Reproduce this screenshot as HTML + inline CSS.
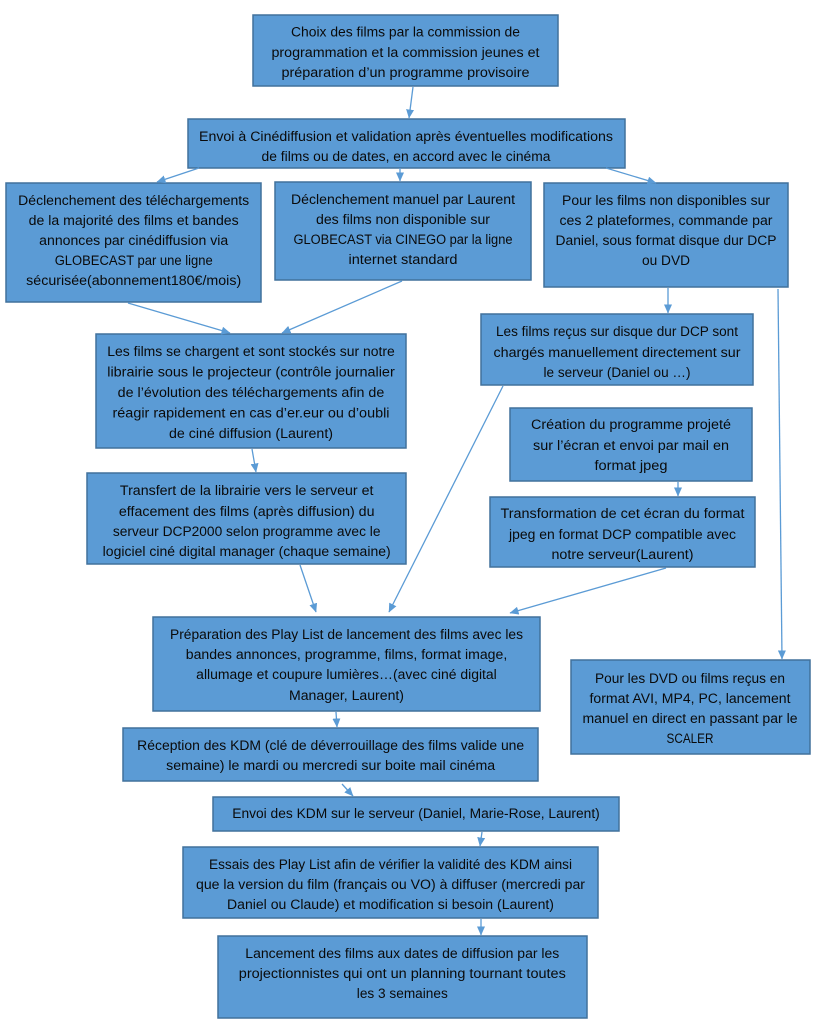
<!DOCTYPE html>
<html>
<head>
<meta charset="utf-8">
<style>
html,body{margin:0;padding:0;background:#fff;}
svg{display:block;}
text{font-family:"Liberation Sans",sans-serif;font-size:13.5px;fill:#0a0a0a;}
</style>
</head>
<body>
<svg width="820" height="1024" viewBox="0 0 820 1024" xmlns="http://www.w3.org/2000/svg">
<defs>
<marker id="ah" markerUnits="userSpaceOnUse" markerWidth="9" markerHeight="8" refX="8.5" refY="4" orient="auto">
<path d="M0,0 L9,4 L0,8 z" fill="#5B9BD5"/>
</marker>
</defs>
<rect x="0" y="0" width="820" height="1024" fill="#fff"/>

<g fill="#5B9BD5" stroke="#41719C" stroke-width="1.5">
<rect x="253" y="15" width="305" height="71"/>
<rect x="188" y="119" width="437" height="49"/>
<rect x="6" y="183" width="255" height="119"/>
<rect x="275" y="182" width="256" height="98"/>
<rect x="544" y="183" width="244" height="104"/>
<rect x="96" y="334" width="310" height="114"/>
<rect x="481" y="314" width="272" height="71"/>
<rect x="510" y="408" width="242" height="73"/>
<rect x="490" y="497" width="265" height="70"/>
<rect x="87" y="473" width="319" height="91"/>
<rect x="153" y="617" width="387" height="94"/>
<rect x="571" y="660" width="239" height="94"/>
<rect x="123" y="728" width="415" height="53"/>
<rect x="213" y="797" width="406" height="34"/>
<rect x="183" y="847" width="415" height="71"/>
<rect x="218" y="936" width="369" height="82"/>
</g>

<g stroke="#5B9BD5" stroke-width="1.3" fill="none" marker-end="url(#ah)">
<line x1="413" y1="87" x2="409" y2="118"/>
<line x1="199" y1="168" x2="157" y2="182"/>
<line x1="400" y1="168" x2="400" y2="181"/>
<line x1="606" y1="168" x2="656" y2="183"/>
<line x1="128" y1="303" x2="230" y2="333"/>
<line x1="402" y1="281" x2="282" y2="333"/>
<line x1="668" y1="288" x2="668" y2="313"/>
<line x1="778" y1="289" x2="782" y2="659"/>
<line x1="252" y1="449" x2="256" y2="472"/>
<line x1="300" y1="565" x2="316" y2="612"/>
<line x1="503" y1="386" x2="389" y2="612"/>
<line x1="666" y1="568" x2="510" y2="613"/>
<line x1="678" y1="482" x2="678" y2="496"/>
<line x1="336" y1="712" x2="337" y2="727"/>
<line x1="342" y1="784" x2="353" y2="796"/>
<line x1="482" y1="832" x2="480" y2="846"/>
<line x1="481" y1="919" x2="481" y2="935"/>
</g>

<g text-anchor="middle" lengthAdjust="spacingAndGlyphs">
<text x="405.5" y="36.5" textLength="229" lengthAdjust="spacingAndGlyphs">Choix des films par la commission de</text>
<text x="405.5" y="57" textLength="268" lengthAdjust="spacingAndGlyphs">programmation et la commission jeunes et</text>
<text x="405.5" y="77" textLength="248" lengthAdjust="spacingAndGlyphs">préparation d’un programme provisoire</text>

<text x="406" y="141" textLength="414" lengthAdjust="spacingAndGlyphs">Envoi à Cinédiffusion et validation après éventuelles modifications</text>
<text x="406" y="161" textLength="289" lengthAdjust="spacingAndGlyphs">de films ou de dates, en accord avec le cinéma</text>

<text x="133.7" y="205" textLength="231" lengthAdjust="spacingAndGlyphs">Déclenchement des téléchargements</text>
<text x="133.7" y="225" textLength="210" lengthAdjust="spacingAndGlyphs">de la majorité des films et bandes</text>
<text x="133.7" y="245" textLength="189" lengthAdjust="spacingAndGlyphs">annonces par cinédiffusion via</text>
<text x="133.7" y="265" textLength="158" lengthAdjust="spacingAndGlyphs">GLOBECAST par une ligne</text>
<text x="133.7" y="285" textLength="215" lengthAdjust="spacingAndGlyphs">sécurisée(abonnement180€/mois)</text>

<text x="403" y="204" textLength="224" lengthAdjust="spacingAndGlyphs">Déclenchement manuel par Laurent</text>
<text x="403" y="224" textLength="174" lengthAdjust="spacingAndGlyphs">des films non disponible sur</text>
<text x="403" y="244" textLength="219" lengthAdjust="spacingAndGlyphs">GLOBECAST via CINEGO par la ligne</text>
<text x="403" y="264" textLength="109" lengthAdjust="spacingAndGlyphs">internet standard</text>

<text x="666" y="205" textLength="208" lengthAdjust="spacingAndGlyphs">Pour les films non disponibles sur</text>
<text x="666" y="225" textLength="213" lengthAdjust="spacingAndGlyphs">ces 2 plateformes, commande par</text>
<text x="666" y="245" textLength="221" lengthAdjust="spacingAndGlyphs">Daniel, sous format disque dur DCP</text>
<text x="666" y="265" textLength="48" lengthAdjust="spacingAndGlyphs">ou DVD</text>

<text x="251" y="356" textLength="287.5" lengthAdjust="spacingAndGlyphs">Les films se chargent et sont stockés sur notre</text>
<text x="251" y="376.5" textLength="287.5" lengthAdjust="spacingAndGlyphs">librairie sous le projecteur (contrôle journalier</text>
<text x="251" y="397" textLength="266.6" lengthAdjust="spacingAndGlyphs">de l’évolution des téléchargements afin de</text>
<text x="251" y="417.5" textLength="277" lengthAdjust="spacingAndGlyphs">réagir rapidement en cas d’er.eur ou d’oubli</text>
<text x="251" y="438" textLength="164" lengthAdjust="spacingAndGlyphs">de ciné diffusion (Laurent)</text>

<text x="617" y="336" textLength="242" lengthAdjust="spacingAndGlyphs">Les films reçus sur disque dur DCP sont</text>
<text x="617" y="357" textLength="247" lengthAdjust="spacingAndGlyphs">chargés manuellement directement sur</text>
<text x="617" y="377" textLength="147" lengthAdjust="spacingAndGlyphs">le serveur (Daniel ou …)</text>

<text x="631" y="429" textLength="200" lengthAdjust="spacingAndGlyphs">Création du programme projeté</text>
<text x="631" y="450" textLength="196" lengthAdjust="spacingAndGlyphs">sur l’écran  et envoi par mail en</text>
<text x="631" y="470" textLength="73" lengthAdjust="spacingAndGlyphs">format jpeg</text>

<text x="622.5" y="518" textLength="244" lengthAdjust="spacingAndGlyphs">Transformation de cet écran du format</text>
<text x="622.5" y="539" textLength="227" lengthAdjust="spacingAndGlyphs">jpeg en format DCP compatible avec</text>
<text x="622.5" y="559" textLength="142" lengthAdjust="spacingAndGlyphs">notre serveur(Laurent)</text>

<text x="246.7" y="495" textLength="253.5" lengthAdjust="spacingAndGlyphs">Transfert de la librairie vers le serveur et</text>
<text x="246.7" y="516" textLength="255.6" lengthAdjust="spacingAndGlyphs">effacement des films (après diffusion) du</text>
<text x="246.7" y="536" textLength="267.6" lengthAdjust="spacingAndGlyphs">serveur DCP2000 selon programme avec le</text>
<text x="246.7" y="556" textLength="288" lengthAdjust="spacingAndGlyphs">logiciel ciné digital manager (chaque semaine)</text>

<text x="346.5" y="639" textLength="353" lengthAdjust="spacingAndGlyphs">Préparation des Play List de lancement des films avec les</text>
<text x="346.5" y="659" textLength="321.5" lengthAdjust="spacingAndGlyphs">bandes annonces, programme, films, format image,</text>
<text x="346.5" y="679" textLength="300.6" lengthAdjust="spacingAndGlyphs">allumage et coupure lumières…(avec ciné digital</text>
<text x="346.5" y="700" textLength="115" lengthAdjust="spacingAndGlyphs">Manager, Laurent)</text>

<text x="690" y="683" textLength="190" lengthAdjust="spacingAndGlyphs">Pour les DVD ou films reçus en</text>
<text x="690" y="703" textLength="201" lengthAdjust="spacingAndGlyphs">format AVI, MP4, PC, lancement</text>
<text x="690" y="723" textLength="215" lengthAdjust="spacingAndGlyphs">manuel en direct en passant par le</text>
<text x="690" y="743" textLength="47" lengthAdjust="spacingAndGlyphs">SCALER</text>

<text x="330.7" y="750" textLength="387" lengthAdjust="spacingAndGlyphs">Réception des KDM (clé de déverrouillage des films valide une</text>
<text x="330.7" y="770" textLength="329" lengthAdjust="spacingAndGlyphs">semaine) le mardi ou mercredi sur boite mail cinéma</text>

<text x="416" y="818" textLength="367.5" lengthAdjust="spacingAndGlyphs">Envoi des KDM sur le serveur (Daniel, Marie-Rose, Laurent)</text>

<text x="390.5" y="869" textLength="363" lengthAdjust="spacingAndGlyphs">Essais des Play List afin de vérifier la validité des KDM ainsi</text>
<text x="390.5" y="889" textLength="389" lengthAdjust="spacingAndGlyphs">que la version du film (français ou VO) à diffuser (mercredi par</text>
<text x="390.5" y="909" textLength="327" lengthAdjust="spacingAndGlyphs">Daniel ou Claude) et modification si besoin (Laurent)</text>

<text x="402.3" y="958" textLength="314" lengthAdjust="spacingAndGlyphs">Lancement des films aux dates de diffusion par les</text>
<text x="402.3" y="978" textLength="327" lengthAdjust="spacingAndGlyphs">projectionnistes qui ont un planning tournant toutes</text>
<text x="402.3" y="998" textLength="91" lengthAdjust="spacingAndGlyphs">les 3 semaines</text>
</g>
</svg>
</body>
</html>
